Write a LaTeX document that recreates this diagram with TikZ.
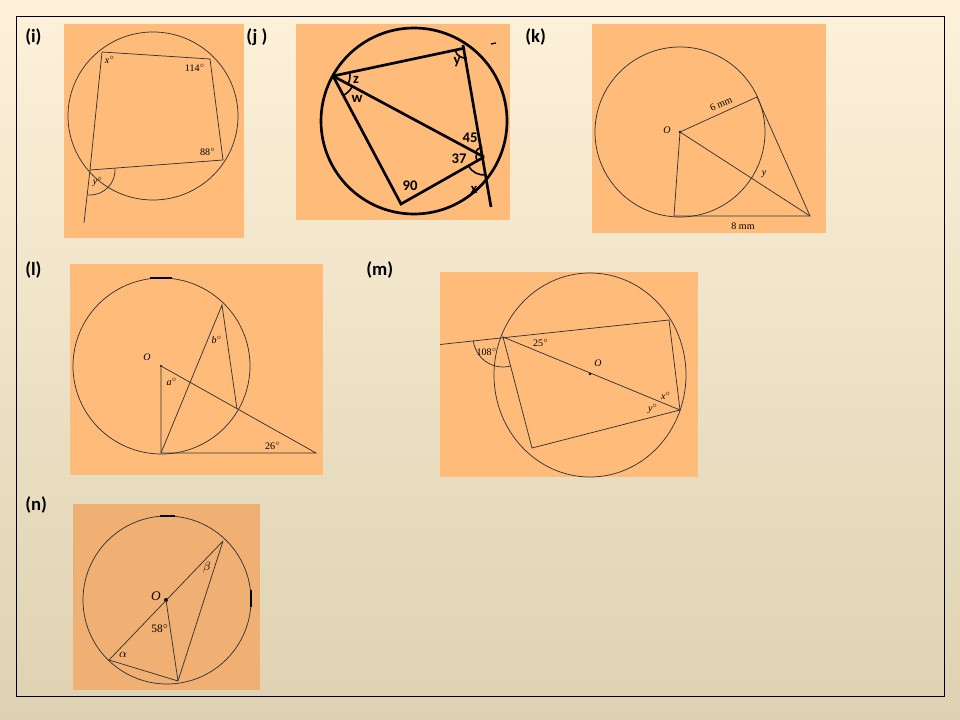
\documentclass[tikz,border=0pt]{standalone}
\usepackage{fontspec}
\setmainfont{Liberation Serif}
\newfontfamily\lab{Carlito}
\begin{document}
\begin{tikzpicture}[x=0.75pt,y=-0.75pt,
  panel/.style={fill=pfill,draw=none},
  geo/.style={draw=black!80,line width=0.55pt},
  thick geo/.style={draw=black,line width=2pt},
  tag/.style={font=\lab\bfseries\fontsize{14}{16}\selectfont,anchor=west,inner sep=0},
  sm/.style={font=\fontsize{7.5}{8}\selectfont\itshape,inner sep=0},
  smr/.style={font=\fontsize{7.5}{8}\selectfont,inner sep=0},
  jl/.style={font=\lab\bfseries\fontsize{11}{12}\selectfont,inner sep=0}]
\definecolor{pfill}{RGB}{255,187,122}
\definecolor{nfill}{RGB}{240,176,116}
\definecolor{bgtop}{RGB}{253,241,218}
\definecolor{bgbot}{RGB}{222,210,178}
\useasboundingbox (0,0) rectangle (960,720);
\shade[top color=bgtop,bottom color=bgbot] (0,0) rectangle (960,720);
\draw[black,line width=0.6pt] (16,16) rectangle (944,696);
% labels
\node[tag] (ti) at (25,37) {(i)};
\node[tag] (tj) at (246,37) {(j )};
\node[tag] (tk) at (525,37) {(k)};
\node[tag] (tl) at (25,270) {(l)};
\node[tag] (tm) at (366,270) {(m)};
\node[tag] (tn) at (25,505) {(n)};
% ---------- (i)
\fill[panel] (64,24) rectangle (244,238);
\draw[geo] (153,116) ellipse [x radius=85, y radius=84];
\coordinate (iA) at (102,52); \coordinate (iB) at (210,59);
\coordinate (iC) at (223,160); \coordinate (iD) at (90,170);
\coordinate (iE) at (84,223);
\draw[geo] (iA) -- (iB) -- (iC) -- (iD) -- (iA);
\draw[geo] (iD) -- (iE);
\draw[geo] (iD) ++(-4:25) arc[start angle=-4,end angle=96,radius=25];
\node[sm] (ix) at (110,60) {x$^\circ$};
\node[smr] (i114) at (195,68) {114$^\circ$};
\node[smr] (i88) at (208,152) {88$^\circ$};
\node[sm] (iy) at (98,182) {y$^\circ$};
% ---------- (j)
\fill[panel] (296,24) rectangle (510,220);
\draw[thick geo] (414,121) circle (93);
\coordinate (jA) at (333,76); \coordinate (jB) at (465,48);
\coordinate (jC) at (484,157); \coordinate (jD) at (401,204);
\coordinate (jT) at (463,45); \coordinate (jE) at (491,207);
\draw[thick geo] (jA) -- (jB);
\draw[thick geo] (jA) -- (jC);
\draw[thick geo] (jA) -- (jD) -- (jC);
\draw[thick geo] (jT) -- (jE);
\draw[black,line width=1pt] (491,44) -- (496,43);
\draw[black,line width=1.2pt] (jA) ++(-12:17) arc[start angle=-12,end angle=28,radius=17];
\draw[black,line width=1.2pt] (jA) ++(28:22) arc[start angle=28,end angle=62,radius=22];
\draw[black,line width=1.2pt] (jB) ++(80:10) arc[start angle=80,end angle=168,radius=10];
\draw[black,line width=1.2pt] (jC) ++(208:10) arc[start angle=208,end angle=260,radius=10];
\draw[black,line width=1.2pt] (jC) ++(150:8) arc[start angle=150,end angle=208,radius=8];
\draw[black,line width=1.2pt] (jC) ++(82:18) arc[start angle=82,end angle=150,radius=18];
\node[jl] (jz) at (356,80) {z};
\node[jl] (jw) at (357,99) {w};
\node[jl] (jy) at (457,62) {y};
\node[jl] (j45) at (470,138) {45};
\node[jl] (j37) at (459,159) {37};
\node[jl] (j90) at (410,186) {90};
\node[jl] (jx) at (474,190) {x};
% ---------- (k)
\fill[panel] (592,24) rectangle (826,233);
\draw[geo] (680,132) circle (85);
\coordinate (kO) at (680,132); \coordinate (kT) at (757,97);
\coordinate (kP) at (810,216); \coordinate (kS) at (674,216);
\fill (kO) circle (1.3);
\draw[geo] (kO) -- (kT) -- (kP) -- (kS) -- (kO);
\draw[geo] (kO) -- (kP);
\node[sm] (kOl) at (667,130) {O};
\node[smr,rotate=24] (k6) at (721,104) {6 mm};
\node[sm] (ky) at (764,174) {y};
\node[smr] (k8) at (743,226) {8 mm};
% ---------- (l)
\fill[panel] (70,264) rectangle (323,475);
\draw[geo] (161.5,366) ellipse [x radius=88.5, y radius=88];
\draw[black,line width=1pt] (150,278) -- (172,278);
\coordinate (lO) at (161,366); \coordinate (lT) at (161,453);
\coordinate (lB) at (222,305); \coordinate (lP) at (237,409);
\coordinate (lE) at (316,453);
\fill (lO) circle (1.2);
\draw[geo] (lO) -- (lT) -- (lE) -- (lO);
\draw[geo] (lT) -- (lB) -- (lP);
\node[sm] (lOl) at (147,357) {O};
\node[sm] (la) at (172,382) {a$^\circ$};
\node[sm] (lb) at (217,340) {b$^\circ$};
\node[smr] (l26) at (273,446) {26$^\circ$};
% ---------- (m)
\fill[panel] (440,272) rectangle (698,477);
\draw[geo] (590,375) ellipse [x radius=96, y radius=102];
\coordinate (mA) at (503,337); \coordinate (mB) at (669,320);
\coordinate (mC) at (680,410); \coordinate (mD) at (532,448);
\coordinate (mL) at (440,344.5); \coordinate (mO) at (590,374);
\fill (mO) circle (1.3);
\draw[geo] (mL) -- (mB) -- (mC) -- (mD) -- (mA) -- (mC);
\draw[geo] (mA) ++(75:30) arc[start angle=75,end angle=173,radius=30];
\node[smr] (m108) at (487,352) {108$^\circ$};
\node[smr] (m25) at (541,343) {25$^\circ$};
\node[sm] (mOl) at (598,363) {O};
\node[sm] (mx) at (666,396) {x$^\circ$};
\node[sm] (my) at (653,409) {y$^\circ$};
% ---------- (n)
\fill[nfill] (73,504) rectangle (260,690);
\draw[geo] (167,600) circle (84);
\draw[black,line width=1pt] (160,516) -- (175,516);
\draw[black,line width=1.6pt] (251,590) -- (251,607);
\coordinate (nO) at (166,600); \coordinate (nA) at (223,541);
\coordinate (nB) at (109,660); \coordinate (nC) at (178,681);
\fill (nO) circle (2);
\draw[geo] (nA) -- (nB) -- (nC) -- (nA);
\draw[geo] (nO) -- (nC);
\node[font=\fontsize{10}{11}\selectfont\itshape,inner sep=0] (nOl) at (156,596) {O};
\node[font=\fontsize{9}{10}\selectfont\itshape,inner sep=0] (nbeta) at (207,567) {$\beta$};
\node[font=\fontsize{8.5}{10}\selectfont,inner sep=0] (n58) at (160,629) {58$^\circ$};
\node[font=\fontsize{9}{10}\selectfont,inner sep=0] (nalpha) at (123,655) {$\alpha$};
\end{tikzpicture}
\end{document}
